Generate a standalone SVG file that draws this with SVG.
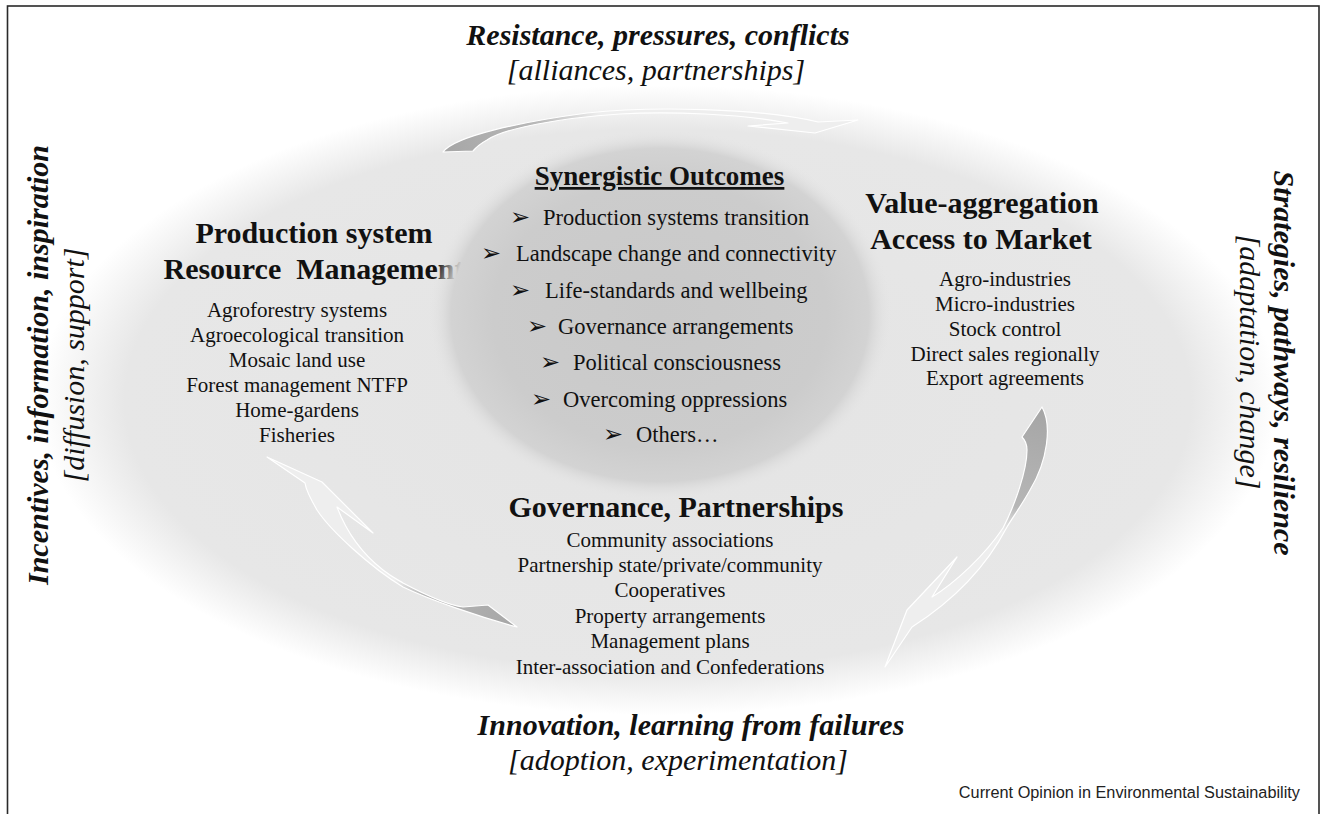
<svg xmlns="http://www.w3.org/2000/svg" width="1321" height="814" viewBox="0 0 1321 814">
<defs>
<radialGradient id="gOuter" cx="0.5" cy="0.5" r="0.5">
<stop offset="0" stop-color="#e4e4e4"/>
<stop offset="0.86" stop-color="#e7e7e7"/>
<stop offset="1" stop-color="#ffffff"/>
</radialGradient>
<radialGradient id="gInner" cx="0.5" cy="0.5" r="0.5">
<stop offset="0" stop-color="#c9c9c9"/>
<stop offset="0.72" stop-color="#cccccc"/>
<stop offset="0.9" stop-color="#d3d3d3"/>
<stop offset="1" stop-color="#e5e5e5" stop-opacity="0"/>
</radialGradient>
<linearGradient id="gTop" gradientUnits="userSpaceOnUse" x1="443" y1="150" x2="600" y2="112">
<stop offset="0" stop-color="#a6a6a6"/>
<stop offset="0.6" stop-color="#b8b8b8"/>
<stop offset="1" stop-color="#eeeeee"/>
</linearGradient>
<linearGradient id="gLeft" gradientUnits="userSpaceOnUse" x1="517" y1="627" x2="395" y2="578">
<stop offset="0" stop-color="#a6a6a6"/>
<stop offset="0.75" stop-color="#b6b6b6"/>
<stop offset="1" stop-color="#eeeeee"/>
</linearGradient>
<linearGradient id="gRight" gradientUnits="userSpaceOnUse" x1="1042" y1="410" x2="1003" y2="532">
<stop offset="0" stop-color="#a6a6a6"/>
<stop offset="0.78" stop-color="#b6b6b6"/>
<stop offset="1" stop-color="#eeeeee"/>
</linearGradient>
</defs>
<style>
.t{font-family:"Liberation Serif","Times New Roman",serif;fill:#111}
.c{text-anchor:middle}
.bi{font-weight:bold;font-style:italic;font-size:30px}
.i{font-style:italic;font-size:30px}
.h{font-weight:bold;font-size:30px}
.l{font-size:21px}
.b{font-size:22.5px}
.ar{font-family:"DejaVu Sans",sans-serif;font-size:24px}
.arrow{stroke:#ffffff;stroke-width:1.2;stroke-linejoin:round}
</style>
<rect x="0" y="0" width="1321" height="814" fill="#ffffff"/>
<rect x="7.5" y="6" width="1311.5" height="830" fill="none" stroke="#2a2a2a" stroke-width="1.6"/>

<g id="background">
<ellipse cx="658" cy="400" rx="620" ry="315" fill="url(#gOuter)"/>
</g>

<g id="production">
<text class="t c h" x="314" y="243">Production system</text>
<text class="t c h" x="314" y="279" style="white-space:pre">Resource  Management</text>
<text class="t c l" x="297" y="317">Agroforestry systems</text>
<text class="t c l" x="297" y="342">Agroecological transition</text>
<text class="t c l" x="297" y="367">Mosaic land use</text>
<text class="t c l" x="297" y="392">Forest management NTFP</text>
<text class="t c l" x="297" y="417">Home-gardens</text>
<text class="t c l" x="297" y="442">Fisheries</text>
</g>

<g id="outcomes">
<ellipse cx="660" cy="315" rx="232" ry="185" fill="url(#gInner)"/>
<text class="t c" x="659.5" y="185" style="font-weight:bold;font-size:27px;text-decoration:underline">Synergistic Outcomes</text>
<text class="t b" y="225"><tspan class="ar" x="510">➢</tspan><tspan x="543">Production systems transition</tspan></text>
<text class="t b" y="261"><tspan class="ar" x="481">➢</tspan><tspan x="516">Landscape change and connectivity</tspan></text>
<text class="t b" y="298"><tspan class="ar" x="510">➢</tspan><tspan x="545">Life-standards and wellbeing</tspan></text>
<text class="t b" y="334"><tspan class="ar" x="527">➢</tspan><tspan x="558">Governance arrangements</tspan></text>
<text class="t b" y="370"><tspan class="ar" x="540">➢</tspan><tspan x="573">Political consciousness</tspan></text>
<text class="t b" y="407"><tspan class="ar" x="531">➢</tspan><tspan x="563">Overcoming oppressions</tspan></text>
<text class="t b" y="442"><tspan class="ar" x="603">➢</tspan><tspan x="636">Others…</tspan></text>
</g>

<g id="value">
<text class="t c h" x="982" y="213">Value-aggregation</text>
<text class="t c h" x="981" y="249">Access to Market</text>
<text class="t c l" x="1005" y="286">Agro-industries</text>
<text class="t c l" x="1005" y="311">Micro-industries</text>
<text class="t c l" x="1005" y="336">Stock control</text>
<text class="t c l" x="1005" y="361">Direct sales regionally</text>
<text class="t c l" x="1005" y="385">Export agreements</text>
</g>

<g id="governance">
<text class="t c h" x="676" y="517">Governance, Partnerships</text>
<text class="t c l" x="670" y="547">Community associations</text>
<text class="t c l" x="670" y="572">Partnership state/private/community</text>
<text class="t c l" x="670" y="597">Cooperatives</text>
<text class="t c l" x="670" y="623">Property arrangements</text>
<text class="t c l" x="670" y="648">Management plans</text>
<text class="t c l" x="670" y="674">Inter-association and Confederations</text>
</g>

<g id="connectors">
<path class="arrow" fill="url(#gTop)" d="M 443,152 C 455,136 520,122 587,113 C 650,106 760,108 818,122 L 858,120 L 815,133 L 748,126 L 788,123 C 740,114 670,111 620,114 C 560,118 505,128 487,140 Q 478,145 473,151 Z"/>
<path class="arrow" fill="url(#gRight)" d="M 1042,407 C 1052,425 1048,460 1030,490 C 1020,508 1012,518 1007,527 C 995,550 970,590 912,627 L 885,667 L 907,610 L 957,557 L 932,597 C 955,583 985,555 1003,528 C 1015,505 1027,470 1027,450 Q 1027,442 1022,437 Z"/>
<path class="arrow" fill="url(#gLeft)" d="M 267,457 L 322,482 L 373,533 L 337,507 C 345,528 360,552 383,570 C 392,577 398,580 403,583 C 420,592 445,605 463,607 L 488,605 L 517,627 C 480,617 430,600 403,587 C 370,567 330,530 317,510 C 310,498 306,490 305,483 Z"/>
</g>

<g id="top-label">
<text class="t c bi" x="658" y="45">Resistance, pressures, conflicts</text>
<text class="t c i" x="656" y="80">[alliances, partnerships]</text>
</g>
<g id="left-label">
<text class="t c bi" transform="translate(48,365) rotate(-90)">Incentives, information, inspiration</text>
<text class="t c i" transform="translate(84,365) rotate(-90)">[diffusion, support]</text>
</g>
<g id="right-label">
<text class="t c bi" transform="translate(1274,363) rotate(90)">Strategies, pathways, resilience</text>
<text class="t c i" transform="translate(1240,362) rotate(90)">[adaptation, change]</text>
</g>
<g id="bottom-label">
<text class="t c bi" x="691" y="735">Innovation, learning from failures</text>
<text class="t c i" x="678" y="770">[adoption, experimentation]</text>
</g>
<text x="1300" y="798" text-anchor="end" style="font-family:'Liberation Sans',Arial,sans-serif;font-size:16.3px;fill:#222">Current Opinion in Environmental Sustainability</text>
</svg>
